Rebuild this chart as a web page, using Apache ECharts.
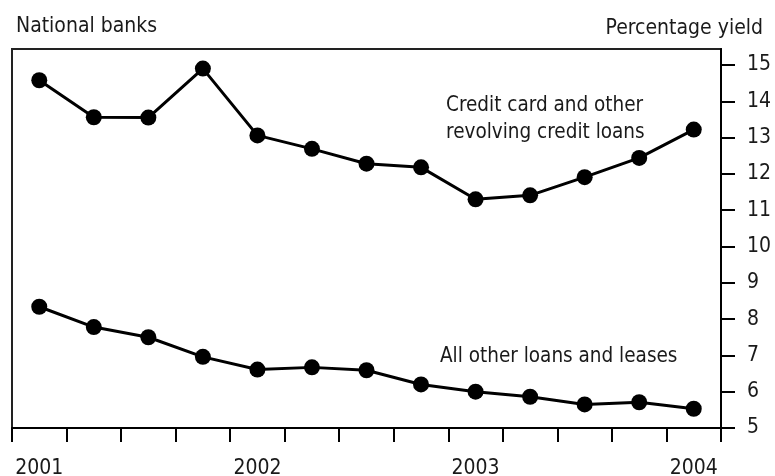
<!DOCTYPE html>
<html>
<head>
<meta charset="utf-8">
<script src="https://cdn.jsdelivr.net/npm/echarts@6/dist/echarts.min.js"></script>
<style>
html,body{margin:0;padding:0;background:#fff;}
#chart{width:775px;height:476px;}
</style>
</head>
<body>
<div id="chart"></div>
<script>
var quarters = ["2001 Q1","2001 Q2","2001 Q3","2001 Q4","2002 Q1","2002 Q2","2002 Q3","2002 Q4","2003 Q1","2003 Q2","2003 Q3","2003 Q4","2004 Q1"];
var yearLabels = ["2001","","","","2002","","","","2003","","","","2004"];
var creditCard = [14.58, 13.56, 13.55, 14.9, 13.06, 12.69, 12.28, 12.18, 11.3, 11.41, 11.91, 12.44, 13.22];
var allOther = [8.34, 7.78, 7.5, 6.96, 6.61, 6.67, 6.59, 6.2, 6.0, 5.86, 5.65, 5.71, 5.53];
var yTicks = [5,6,7,8,9,10,11,12,13,14,15];

var FONT = '"DejaVu Sans Condensed","DejaVu Sans",sans-serif';
var TXT = '#1a1a1a';

var chart = echarts.init(document.getElementById('chart'), null, {renderer:'canvas'});
var seriesStyle = {
  type:'line',
  symbol:'circle',
  symbolSize:16,
  lineStyle:{color:'#000',width:3},
  itemStyle:{color:'#000'},
  emphasis:{disabled:true},
  z:3
};
chart.setOption({
  animation:false,
  backgroundColor:'#fff',
  grid:{left:12,right:54,top:49,bottom:48,containLabel:false,outerBoundsMode:'none',show:true,borderColor:'#222',borderWidth:2,backgroundColor:'transparent'},
  title:[
    {text:'National banks',left:11,top:11,textStyle:{fontFamily:FONT,fontSize:21,fontWeight:'normal',color:TXT}},
    {text:'Percentage yield',right:7,top:13,textStyle:{fontFamily:FONT,fontSize:21,fontWeight:'normal',color:TXT}}
  ],
  xAxis:{
    type:'category',
    data:quarters,
    boundaryGap:true,
    axisLine:{show:true,lineStyle:{color:'#000',width:2}},
    axisTick:{show:true,interval:0,length:14,lineStyle:{color:'#000',width:2}},
    axisLabel:{interval:0,margin:30,fontFamily:FONT,fontSize:21,color:TXT,
      formatter:function(v,i){return yearLabels[i];}},
    splitLine:{show:false}
  },
  yAxis:{
    type:'value',
    position:'right',
    min:5,
    max:15.44,
    axisLine:{show:true,lineStyle:{color:'#000',width:2}},
    axisTick:{show:true,length:14,lineStyle:{color:'#000',width:2},customValues:yTicks},
    axisLabel:{margin:26,padding:[4,0,0,0],fontFamily:FONT,fontSize:21,color:TXT,customValues:yTicks},
    splitLine:{show:false}
  },
  graphic:[
    {type:'text',left:446,top:92,style:{text:'Credit card and other\nrevolving credit loans',fontFamily:FONT,fontSize:20.5,lineHeight:27,fill:TXT}},
    {type:'text',left:440,top:343,style:{text:'All other loans and leases',fontFamily:FONT,fontSize:20.5,lineHeight:27,fill:TXT}}
  ],
  series:[
    Object.assign({name:'Credit card and other revolving credit loans',data:creditCard},seriesStyle),
    Object.assign({name:'All other loans and leases',data:allOther},seriesStyle)
  ]
});
</script>
</body>
</html>
